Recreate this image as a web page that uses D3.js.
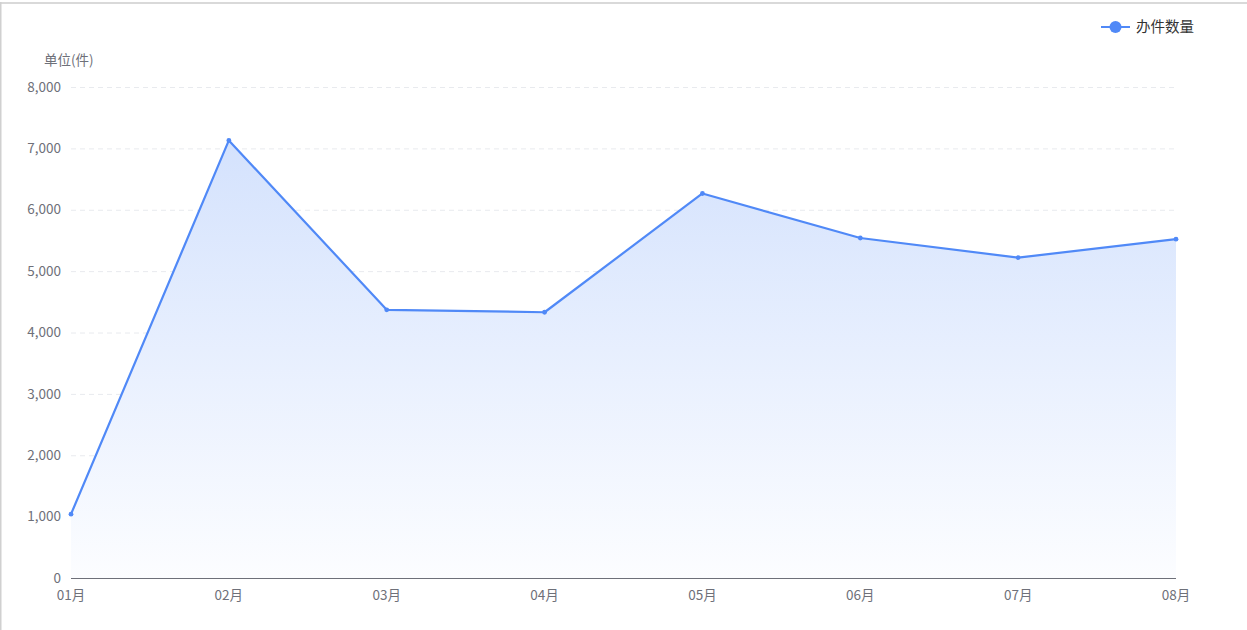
<!DOCTYPE html>
<html><head><meta charset="utf-8">
<script src="https://cdn.jsdelivr.net/npm/d3@7"></script>
<style>
html,body{margin:0;padding:0;background:#fff;}
svg{display:block;font-family:"Noto Sans CJK SC","Microsoft YaHei",sans-serif;}
</style></head>
<body><svg id="c" width="1247" height="630"></svg>
<script>
const categories = ["01月","02月","03月","04月","05月","06月","07月","08月"];
const values = [1040, 7130, 4370, 4330, 6265, 5540, 5220, 5520];
const yTicks = [0,1000,2000,3000,4000,5000,6000,7000,8000];
const seriesName = "办件数量";
const unitLabel = "单位(件)";

const svg = d3.select("#c");
const W = 1247, H = 630;
const m = {left:71, right:1176, top:87, bottom:578};
const color = "#5089f7";

// frame
svg.append("rect").attr("x",0).attr("y",2).attr("width",W).attr("height",2).attr("fill","#d9d9d9");
svg.append("rect").attr("x",0).attr("y",2).attr("width",1.5).attr("height",H).attr("fill","#d0d0d0");

const x = d3.scalePoint().domain(categories).range([m.left, m.right]);
const y = d3.scaleLinear().domain([0,8000]).range([m.bottom, m.top]);

const defs = svg.append("defs");
const g = defs.append("linearGradient").attr("id","ag")
  .attr("gradientUnits","userSpaceOnUse").attr("x1",0).attr("y1",y(7130)).attr("x2",0).attr("y2",m.bottom);
g.append("stop").attr("offset","0%").attr("stop-color","#d4e2fd");
g.append("stop").attr("offset","100%").attr("stop-color","#fcfdff");

// grid
svg.append("g").selectAll("line").data(yTicks.filter(d=>d>0)).join("line")
  .attr("x1",m.left).attr("x2",m.right).attr("y1",d=>y(d)+0.5).attr("y2",d=>y(d)+0.5)
  .attr("stroke","#e8eaee").attr("stroke-dasharray","5,4").attr("stroke-width",1);

const data = categories.map((c,i)=>({c, v:values[i]}));
svg.append("path").datum(data)
  .attr("d", d3.area().x(d=>x(d.c)).y0(y(0)).y1(d=>y(d.v)))
  .attr("fill","url(#ag)");

// axis line
svg.append("line").attr("x1",m.left).attr("x2",m.right).attr("y1",m.bottom+0.5).attr("y2",m.bottom+0.5)
  .attr("stroke","#6e7079").attr("stroke-width",1);

svg.append("path").datum(data)
  .attr("d", d3.line().x(d=>x(d.c)).y(d=>y(d.v)))
  .attr("fill","none").attr("stroke",color).attr("stroke-width",2.2).attr("stroke-linejoin","round");
svg.append("g").selectAll("circle").data(data).join("circle")
  .attr("cx",d=>x(d.c)).attr("cy",d=>y(d.v)).attr("r",2.4).attr("fill",color);

// y labels
svg.append("g").selectAll("text").data(yTicks).join("text")
  .attr("x",61).attr("y",d=>y(d)).attr("dy","0.35em").attr("text-anchor","end")
  .attr("font-size",13.5).attr("fill","#6e7079").text(d=>d3.format(",")(d));
// x labels
svg.append("g").selectAll("text").data(categories).join("text")
  .attr("x",d=>x(d)).attr("y",600).attr("text-anchor","middle")
  .attr("font-size",13.5).attr("fill","#6e7079").text(d=>d);

svg.append("text").attr("x",44).attr("y",65).attr("font-size",13.5).attr("fill","#6e7079").text(unitLabel);

// legend
const lg = svg.append("g");
lg.append("line").attr("x1",1101).attr("x2",1130).attr("y1",27).attr("y2",27).attr("stroke",color).attr("stroke-width",2);
lg.append("circle").attr("cx",1115.5).attr("cy",27).attr("r",6).attr("fill",color);
lg.append("text").attr("x",1136).attr("y",27).attr("dy","0.35em").attr("font-size",14.5).attr("fill","#333").text(seriesName);
</script></body></html>
